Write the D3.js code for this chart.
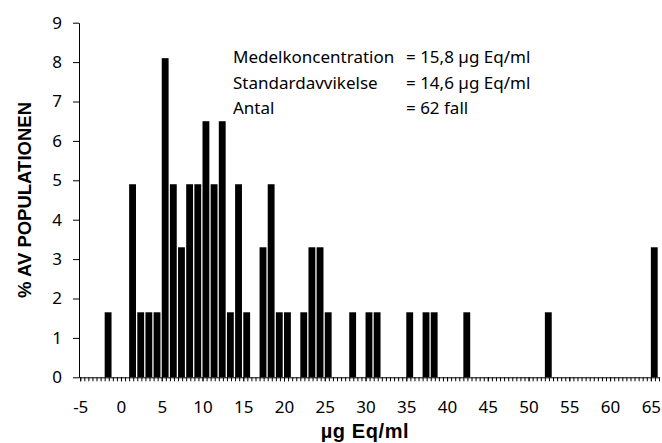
<!DOCTYPE html>
<html>
<head>
<meta charset="utf-8">
<script src="https://cdn.jsdelivr.net/npm/d3@7"></script>
<style>
  body { margin: 0; background: #fff; }
  svg { display: block; }
</style>
</head>
<body>
<script>
// histogram: left edge of each 1-unit bin (µg Eq/ml) and share of population (%)
const binStart = [-2, 1, 2, 3, 4, 5, 6, 7, 8, 9, 10, 11, 12, 13, 14, 15,
    17, 18, 19, 20, 22, 23, 24, 25, 28, 30, 31, 35, 37, 38, 42, 52, 65];
const pctValues = [1.65, 4.9, 1.65, 1.65, 1.65, 8.1, 4.9, 3.3, 4.9, 4.9, 6.5, 4.9, 6.5, 1.65, 4.9, 1.65,
    3.3, 4.9, 1.65, 1.65, 1.65, 3.3, 3.3, 1.65, 1.65, 1.65, 1.65, 1.65, 1.65, 1.65, 1.65, 1.65, 3.3];

const xTickValues = [-5, 0, 5, 10, 15, 20, 25, 30, 35, 40, 45, 50, 55, 60, 65];
const yTickValues = [0, 1, 2, 3, 4, 5, 6, 7, 8, 9];

const statLabels = ["Medelkoncentration", "Standardavvikelse", "Antal"];
const statValues = ["= 15,8 µg Eq/ml", "= 14,6 µg Eq/ml", "= 62 fall"];

const width = 662;
const height = 443;

const svg = d3.select("body").append("svg")
    .attr("width", width)
    .attr("height", height);

const x = d3.scaleLinear()
    .domain([-5.15, 66])
    .range([79, 659]);

const y = d3.scaleLinear()
    .domain([0, 9])
    .range([377.3, 22.7]);

const tickFont = "'Noto Sans', sans-serif";

// bars
svg.append("g")
    .selectAll("rect")
    .data(binStart)
    .enter()
    .append("rect")
    .attr("x", d => x(d))
    .attr("width", d => x(d + 1) - x(d) - 1.3)
    .attr("y", (d, i) => y(pctValues[i]))
    .attr("height", (d, i) => y(0) - y(pctValues[i]))
    .attr("fill", "#000");

// minor ticks every half unit
svg.append("g")
    .attr("transform", `translate(0,${y(0)})`)
    .call(d3.axisBottom(x).tickValues(d3.range(-5, 66.01, 0.5)).tickSize(4).tickFormat(""))
    .call(g => g.select(".domain").remove());

// x axis with labels (plain hyphen for negatives, as in the original)
const xAxis = svg.append("g")
    .attr("transform", `translate(0,${y(0)})`)
    .call(d3.axisBottom(x).tickValues(xTickValues).tickSize(4).tickPadding(20)
        .tickSizeOuter(0).tickFormat(d => String(d)));
xAxis.selectAll("text")
    .style("font-family", tickFont)
    .style("font-size", "17px")
    .attr("fill", "#000");

// y axis
const yAxis = svg.append("g")
    .attr("transform", `translate(${x.range()[0]},0)`)
    .call(d3.axisLeft(y).tickValues(yTickValues).tickSize(6).tickPadding(11)
        .tickSizeOuter(0));
yAxis.selectAll("text")
    .style("font-family", tickFont)
    .style("font-size", "17px")
    .attr("fill", "#000");

svg.selectAll(".domain, .tick line").attr("stroke", "#000");

// stats block
const stats = svg.append("g")
    .style("font-family", tickFont)
    .style("font-size", "17px")
    .attr("fill", "#000");

statLabels.forEach((s, i) => {
    stats.append("text")
        .attr("x", 233)
        .attr("y", 63.3 + i * 25.5)
        .text(s);
    stats.append("text")
        .attr("x", 406)
        .attr("y", 63.3 + i * 25.5)
        .text(statValues[i]);
});

// axis titles
svg.append("text")
    .attr("transform", "rotate(-90)")
    .attr("x", -200)
    .attr("y", 31)
    .attr("text-anchor", "middle")
    .style("font-family", "'Liberation Sans', Arial, sans-serif")
    .style("font-weight", "bold")
    .style("font-size", "18.5px")
    .text("% AV POPULATIONEN");

svg.append("text")
    .attr("x", 365)
    .attr("y", 438)
    .attr("text-anchor", "middle")
    .style("font-family", "'Liberation Sans', Arial, sans-serif")
    .style("font-weight", "bold")
    .style("font-size", "20px")
    .style("letter-spacing", "0.6px")
    .text("µg Eq/ml");
</script>
</body>
</html>
